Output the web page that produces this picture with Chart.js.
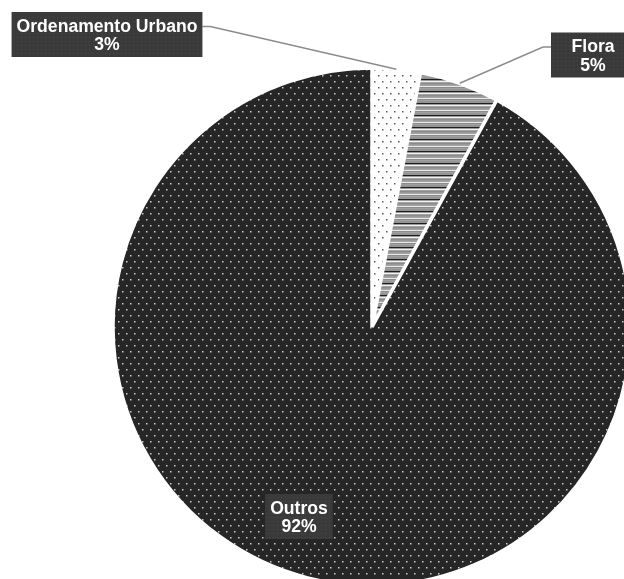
<!DOCTYPE html>
<html>
<head>
<meta charset="utf-8">
<script src="https://cdn.jsdelivr.net/npm/chart.js@4/dist/chart.umd.min.js"></script>
<style>
  html, body { margin: 0; padding: 0; background: #fff; overflow: hidden; width: 624px; height: 579px; }
  #wrap { position: absolute; left: 0; top: 0; width: 624px; height: 654px; }
</style>
</head>
<body>
<div id="wrap"><canvas id="c" width="624" height="654"></canvas></div>
<script>
const categories = ['Ordenamento Urbano', 'Flora', 'Outros'];
const values = [3, 5, 92];

function makeTile(w, h, draw) {
  const cv = document.createElement('canvas');
  cv.width = w; cv.height = h;
  const g = cv.getContext('2d');
  draw(g);
  return cv;
}
const ctx0 = document.getElementById('c').getContext('2d');

const dotsDark = ctx0.createPattern(makeTile(8, 12, g => {
  g.fillStyle = '#262626'; g.fillRect(0, 0, 8, 12);
  g.fillStyle = '#cfcfcf';
  g.fillRect(2, 3, 1.5, 1.5);
  g.fillRect(6, 9, 1.5, 1.5);
}), 'repeat');

const dotsLight = ctx0.createPattern(makeTile(8, 12, g => {
  g.fillStyle = '#ffffff'; g.fillRect(0, 0, 8, 12);
  g.fillStyle = '#5a5a5a';
  g.fillRect(2, 3, 1.5, 1.5);
  g.fillRect(6, 9, 1.5, 1.5);
}), 'repeat');

const stripes = ctx0.createPattern(makeTile(4, 12, g => {
  const rows = ['#9a9a9a', '#a3a3a3', '#e8e8e8', '#8c8c8c', '#a0a0a0', '#959595', '#939393', '#1e1e1e', '#9c9c9c', '#f2f2f2', '#a5a5a5', '#8a8a8a'];
  rows.forEach((c, i) => { g.fillStyle = c; g.fillRect(0, i, 4, 1); });
}), 'repeat');

const boxPattern = ctx0.createPattern(makeTile(4, 4, g => {
  g.fillStyle = '#3a3a3a'; g.fillRect(0, 0, 4, 4);
  g.fillStyle = '#474747'; g.fillRect(1, 1, 1, 1);
}), 'repeat');

const FONT = 'bold 17.6px "Liberation Sans", Arial, sans-serif';

const labelPlugin = {
  id: 'pieLabels',
  afterDatasetsDraw(chart) {
    const ctx = chart.ctx;
    const meta = chart.getDatasetMeta(0);
    const ds = chart.data.datasets[0].data;
    const total = ds.reduce((a, b) => a + b, 0);
    // placement of label boxes relative to the pie centre: [dx, dy, minWidth, leaderSide]
    const place = [
      [-265, -292.5, 0, 'right'],
      [221, -272, 84, 'left'],
      [-73, 189.5, 0, null]
    ];
    meta.data.forEach((arc, i) => {
      const p = arc.getProps(['x', 'y', 'startAngle', 'endAngle', 'outerRadius'], true);
      const lines = [chart.data.labels[i], Math.round(ds[i] / total * 100) + '%'];
      ctx.save();
      ctx.font = FONT;
      const tw = Math.max(...lines.map(l => ctx.measureText(l).width));
      const w = Math.max(tw + 10, place[i][2]);
      const h = 45;
      const cx = p.x + place[i][0], cy = p.y + place[i][1];
      const bx = cx - w / 2, by = cy - h / 2;
      if (place[i][3]) {
        const mid = (p.startAngle + p.endAngle) / 2;
        const ax = p.x + Math.cos(mid) * p.outerRadius;
        const ay = p.y + Math.sin(mid) * p.outerRadius;
        const ly = cy - 8;
        const ex = place[i][3] === 'right' ? bx + w : bx;
        const elbow = place[i][3] === 'right' ? ex + 8 : ex - 8;
        ctx.strokeStyle = '#8c8c8c';
        ctx.lineWidth = 1.5;
        ctx.beginPath();
        ctx.moveTo(ax, ay);
        ctx.lineTo(elbow, ly);
        ctx.lineTo(ex, ly);
        ctx.stroke();
      }
      ctx.fillStyle = boxPattern;
      ctx.fillRect(bx, by, w, h);
      ctx.fillStyle = '#ffffff';
      ctx.textAlign = 'center';
      ctx.textBaseline = 'alphabetic';
      ctx.fillText(lines[0], cx, cy - 3);
      ctx.fillText(lines[1], cx, cy + 15.5);
      ctx.restore();
    });
  }
};

new Chart(document.getElementById('c'), {
  type: 'pie',
  data: {
    labels: categories,
    datasets: [{
      data: values,
      backgroundColor: [dotsLight, stripes, dotsDark],
      borderColor: '#ffffff',
      borderWidth: 3.5
    }]
  },
  options: {
    responsive: false,
    animation: false,
    radius: 259,
    layout: { padding: { left: 120, right: 0, top: 0, bottom: 0 } },
    plugins: {
      legend: { display: false },
      tooltip: { enabled: false },
      title: { display: false }
    }
  },
  plugins: [labelPlugin]
});
</script>
</body>
</html>
